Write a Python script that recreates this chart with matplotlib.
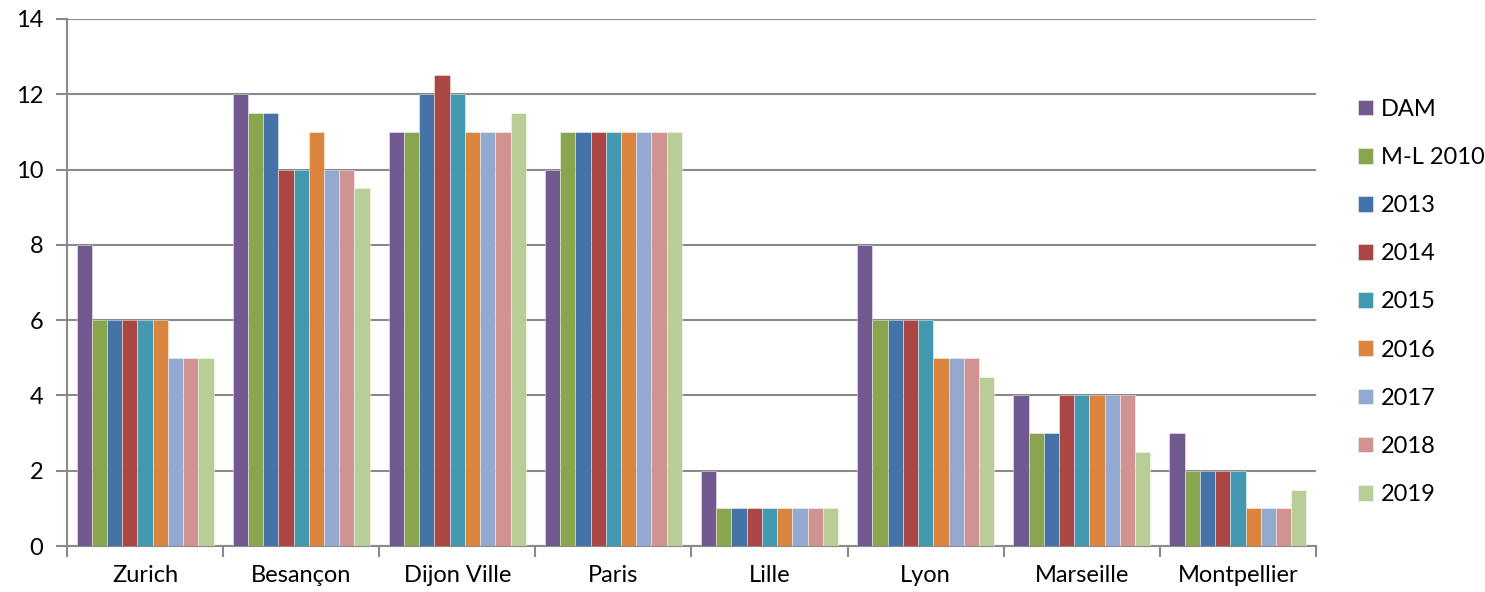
import matplotlib.pyplot as plt
import numpy as np

plt.rcParams['font.family'] = ['Lato', 'DejaVu Sans']

cities = ["Zurich", "Besançon", "Dijon Ville", "Paris", "Lille", "Lyon", "Marseille", "Montpellier"]
series = ["DAM", "M-L 2010", "2013", "2014", "2015", "2016", "2017", "2018", "2019"]
colors = ["#71588F", "#89A54E", "#4572A7", "#AA4643", "#4198AF", "#DB843D", "#93A9CF", "#D19392", "#B9CD96"]

dam    = [8, 12, 11, 10, 2, 8, 4, 3]
ml2010 = [6, 11.5, 11, 11, 1, 6, 3, 2]
y2013  = [6, 11.5, 12, 11, 1, 6, 3, 2]
y2014  = [6, 10, 12.5, 11, 1, 6, 4, 2]
y2015  = [6, 10, 12, 11, 1, 6, 4, 2]
y2016  = [6, 11, 11, 11, 1, 5, 4, 1]
y2017  = [5, 10, 11, 11, 1, 5, 4, 1]
y2018  = [5, 10, 11, 11, 1, 5, 4, 1]
y2019  = [5, 9.5, 11.5, 11, 1, 4.5, 2.5, 1.5]
values = [dam, ml2010, y2013, y2014, y2015, y2016, y2017, y2018, y2019]

fig = plt.figure(figsize=(14.85, 5.92), dpi=100)
ax = fig.add_axes([0.0451, 0.0777, 0.8411, 0.8903])

x = np.arange(len(cities))
w = 0.0975
grid_c = "#8a8a8a"
for i, (name, vals) in enumerate(zip(series, values)):
    ax.bar(x + (i - 4) * w, vals, width=w, color=colors[i], label=name,
           edgecolor=(1, 1, 1, 0.5), linewidth=0.6, zorder=3)

ax.set_xlim(-0.5, len(cities) - 0.5)
ax.set_ylim(0, 14)
ax.set_yticks(range(0, 15, 2))
ax.yaxis.grid(True, color=grid_c, linewidth=1.5, zorder=0)
ax.set_axisbelow(True)

ax.set_xticks(x)
ax.set_xticklabels(cities)
ax.set_xticks(np.arange(-0.5, len(cities)), minor=True)
ax.tick_params(axis='x', which='major', length=0, labelsize=17, pad=14)
ax.tick_params(axis='x', which='minor', length=8, width=1.5, color=grid_c, direction='out')
ax.tick_params(axis='y', length=8, width=1.5, color=grid_c, labelsize=17, pad=9)

for s in ['top', 'right']:
    ax.spines[s].set_visible(False)
for s in ['left', 'bottom']:
    ax.spines[s].set_color(grid_c)
    ax.spines[s].set_linewidth(1.5)

fig.legend(loc='center left', bbox_to_anchor=(0.9, 0.49), frameon=False,
           fontsize=17, handlelength=0.65, handleheight=0.65, handletextpad=0.35,
           labelspacing=1.15)

fig.savefig("out.png", dpi=100)
